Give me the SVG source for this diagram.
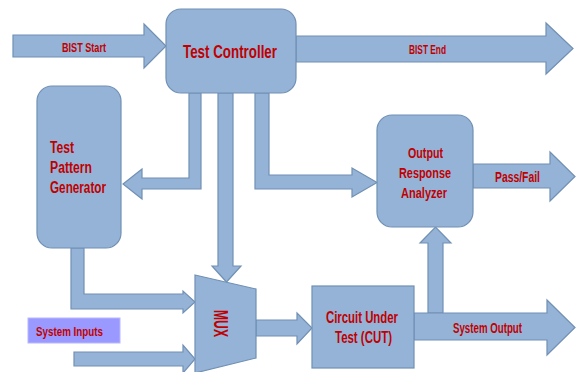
<svg xmlns="http://www.w3.org/2000/svg" width="580" height="372" viewBox="0 0 580 372">
<style>
.shape{fill:#95B3D7;stroke:#7090B4;stroke-width:1.2;stroke-linejoin:miter}
.conn{fill:#95B3D7;stroke:#7090B4;stroke-width:1.2;stroke-linejoin:miter}
.t{font-family:"Liberation Sans","DejaVu Sans",sans-serif;font-weight:bold;fill:#C00000}
.c{text-anchor:middle}
</style>
<rect width="580" height="372" fill="#FFFFFF"/>
<g id="connectors">
<path class="conn" d="M13,35 H144 V24 L166,46 L144,68 V57 H13 Z"/>
<path class="conn" d="M296,36 H546 V23 L573,48.5 L546,74 V62 H296 Z"/>
<path class="conn" d="M189,93 V178 H142 V169 L123,184 L142,199 V189 H201 V93 Z"/>
<path class="conn" d="M218,93 V266 H212 L226.5,282 L241,266 H233 V93 Z"/>
<path class="conn" d="M255,93 V189 H352 V197 L377,182.5 L352,168 V175 H269 V93 Z"/>
<path class="conn" d="M473,164 H550 V152 L575,176.5 L550,201 V188 H473 Z"/>
<path class="conn" d="M428,313 V243 H420 L435.5,227 L451,243 H443 V313 Z"/>
<path class="conn" d="M414,313 H547 V300 L575,327.5 L547,355 V340 H414 Z"/>
<path class="conn" d="M256,320 H297 V313 L312,328 L297,344 V336 H256 Z"/>
<path class="conn" d="M71,248 V309 H183 V313 L195,302 L183,291 V294 H84 V248 Z"/>
<path class="conn" d="M74,352 H183 V345 L195,359 L183,373 V366 H74 Z"/>
<text class="t c" x="84" y="52" font-size="12" textLength="44" lengthAdjust="spacingAndGlyphs">BIST Start</text>
<text class="t c" x="427.5" y="54" font-size="12" textLength="37" lengthAdjust="spacingAndGlyphs">BIST End</text>
<text class="t c" x="517.5" y="182" font-size="14" textLength="45" lengthAdjust="spacingAndGlyphs">Pass/Fail</text>
<text class="t c" x="487.5" y="333" font-size="14" textLength="69" lengthAdjust="spacingAndGlyphs">System Output</text>
</g>
<g id="test-controller">
<rect class="shape" x="166" y="9" width="130" height="84" rx="15" ry="15"/>
<text class="t c" x="230" y="58" font-size="19" textLength="94" lengthAdjust="spacingAndGlyphs">Test Controller</text>
</g>
<g id="test-pattern-generator">
<rect class="shape" x="37" y="86" width="84" height="162" rx="15" ry="15"/>
<text class="t" x="50" y="153" font-size="16" textLength="24" lengthAdjust="spacingAndGlyphs">Test</text>
<text class="t" x="50" y="173" font-size="16" textLength="42" lengthAdjust="spacingAndGlyphs">Pattern</text>
<text class="t" x="50" y="193" font-size="16" textLength="56" lengthAdjust="spacingAndGlyphs">Generator</text>
</g>
<g id="output-response-analyzer">
<rect class="shape" x="377" y="115" width="96" height="112" rx="15" ry="15"/>
<text class="t c" x="425.5" y="158" font-size="15" textLength="35" lengthAdjust="spacingAndGlyphs">Output</text>
<text class="t c" x="425" y="178" font-size="15" textLength="52" lengthAdjust="spacingAndGlyphs">Response</text>
<text class="t c" x="424" y="198" font-size="15" textLength="46" lengthAdjust="spacingAndGlyphs">Analyzer</text>
</g>
<g id="mux">
<polygon class="shape" points="195,275 256,289 256,358 195,373"/>
<text class="t c" transform="translate(214,323.5) rotate(90)" x="0" y="0" font-size="21" textLength="27" lengthAdjust="spacingAndGlyphs">MUX</text>
</g>
<g id="cut">
<rect class="shape" x="312" y="286" width="102" height="82"/>
<text class="t c" x="362" y="323" font-size="16" textLength="72" lengthAdjust="spacingAndGlyphs">Circuit Under</text>
<text class="t c" x="363.5" y="343" font-size="16" textLength="57" lengthAdjust="spacingAndGlyphs">Test (CUT)</text>
</g>
<g id="system-inputs">
<rect x="28" y="318" width="92" height="25" fill="#9999FF" stroke="#B8B8FF" stroke-width="1"/>
<text class="t" x="36" y="336" font-size="13" textLength="67" lengthAdjust="spacingAndGlyphs">System Inputs</text>
</g>
</svg>
